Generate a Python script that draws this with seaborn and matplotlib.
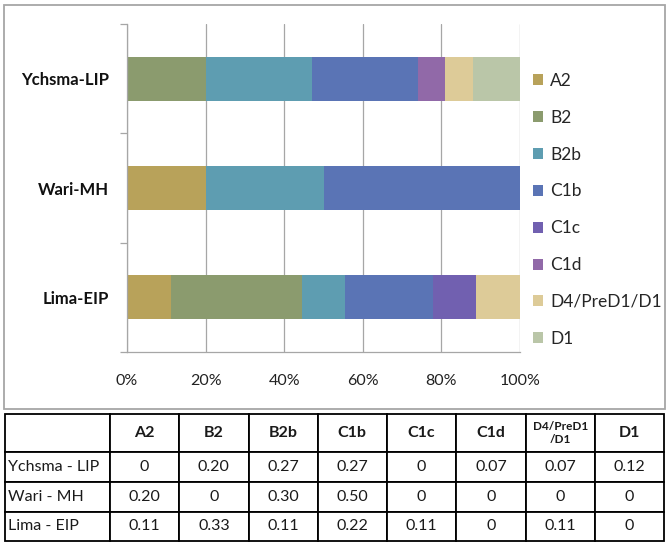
import seaborn as sns
import matplotlib.pyplot as plt
import pandas as pd
from matplotlib.patches import Patch, Rectangle
from matplotlib.ticker import PercentFormatter

# data
sites = ['Ychsma-LIP', 'Wari-MH', 'Lima-EIP']
table_sites = ['Ychsma - LIP', 'Wari - MH', 'Lima - EIP']
haplogroups = ['A2', 'B2', 'B2b', 'C1b', 'C1c', 'C1d', 'D4/PreD1/D1', 'D1']
ychsma = [0, 0.20, 0.27, 0.27, 0, 0.07, 0.07, 0.12]
wari = [0.20, 0, 0.30, 0.50, 0, 0, 0, 0]
lima = [0.11, 0.33, 0.11, 0.22, 0.11, 0, 0.11, 0]

colors = ['#B8A25A', '#8B9B6E', '#5E9DB1', '#5A74B5',
          '#7160B0', '#9169A8', '#DDCB98', '#BAC6A8']

sns.set_style('white')
plt.rcParams['font.family'] = ['Lato', 'DejaVu Sans']

df = pd.DataFrame([ychsma, wari, lima], index=sites, columns=haplogroups)
# 100% stacked, like the original spreadsheet chart
share = df.div(df.sum(axis=1), axis=0)
cum = share.cumsum(axis=1)
cum.index.name = 'site'
cum = cum.reset_index()

fig = plt.figure(figsize=(6.7, 5.47), dpi=100)
W, H = 670, 547
ax = fig.add_axes([127 / W, 1 - 352 / H, (520 - 127) / W, (352 - 24) / H])

# draw longest cumulative layer first, shorter ones on top
for i in range(len(haplogroups) - 1, -1, -1):
    sns.barplot(data=cum, x=haplogroups[i], y='site', order=sites,
                color=colors[i], saturation=1, width=0.4, linewidth=0, ax=ax)

ax.set_xlim(0, 1)
ax.set_ylim(2.5, -0.5)
ax.set_xticks([0, 0.2, 0.4, 0.6, 0.8, 1.0])
ax.xaxis.set_major_formatter(PercentFormatter(1.0, decimals=0))
ax.set_xlabel('')
ax.set_ylabel('')
ax.set_axisbelow(True)
ax.grid(axis='x', color='#A6A6A6', linewidth=0.9)
for s in ['top', 'right']:
    ax.spines[s].set_visible(False)
for s in ['left', 'bottom']:
    ax.spines[s].set_color('#A6A6A6')
    ax.spines[s].set_linewidth(0.9)
ax.tick_params(axis='x', length=0, labelsize=11.5, pad=16, colors='#222222')
ax.tick_params(axis='y', which='major', length=0, labelsize=12, pad=13, colors='#111111')
ax.set_yticks([-0.5, 0.5, 1.5, 2.5], minor=True)
ax.tick_params(axis='y', which='minor', length=5, width=0.9, color='#A6A6A6', left=True)
for lab in ax.get_yticklabels():
    lab.set_fontweight('bold')

handles = [Patch(facecolor=c, edgecolor='none') for c in colors]
fig.legend(handles, haplogroups, loc='upper left', bbox_to_anchor=(533 / W, 1 - 73 / H),
           frameon=False, fontsize=12.5, handlelength=0.6, handleheight=0.6,
           handletextpad=0.4, labelspacing=1.2, borderpad=0, borderaxespad=0)

# grey frame around the chart
fig.add_artist(Rectangle((4 / W, 1 - 409 / H), 661 / W, 404 / H, transform=fig.transFigure,
                         fill=False, edgecolor='#A6A6A6', linewidth=1.3))

# table of values under the chart
tax = fig.add_axes([5 / W, 1 - 541 / H, 659 / W, 127 / H])
tax.axis('off')

def fmt(v):
    return '0' if v == 0 else f'{v:.2f}'

header = [''] + [h if h != 'D4/PreD1/D1' else 'D4/PreD1\n/D1' for h in haplogroups]
rows = [header]
for name, vals in zip(table_sites, [ychsma, wari, lima]):
    rows.append([name] + [fmt(v) for v in vals])

tbl = tax.table(cellText=rows, cellLoc='center', bbox=[0, 0, 1, 1])
tbl.auto_set_font_size(False)
tbl.set_fontsize(11.5)
col_w = [105] + [69.25] * 8
row_h = [38, 30, 30, 29]
for (r, c), cell in tbl.get_celld().items():
    cell.set_width(col_w[c])
    cell.set_height(row_h[r])
    cell.set_edgecolor('black')
    cell.set_linewidth(1.3)
    txt = cell.get_text()
    txt.set_color('#1a1a1a')
    if r == 0:
        txt.set_fontweight('bold')
        if c == 7:
            txt.set_fontsize(8.5)
    if c == 0 and r > 0:
        txt.set_ha('left')
        cell.PAD = 0.03

fig.savefig('out.png', dpi=100)
